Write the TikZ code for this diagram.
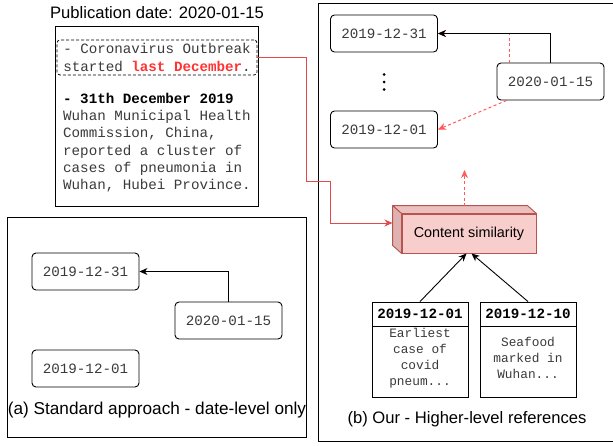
\documentclass[tikz,border=0pt]{standalone}
\usepackage{fontspec}
\setmainfont{Liberation Sans}
\setmonofont{Liberation Mono}
\usetikzlibrary{arrows.meta,calc}
\definecolor{redline}{RGB}{228,72,72}
\definecolor{reddash}{RGB}{255,90,90}
\definecolor{redtxt}{RGB}{255,51,51}
\definecolor{cubefill}{HTML}{F8CECC}
\definecolor{cubetop}{HTML}{EBC0BE}
\definecolor{cubeside}{HTML}{DEB2B0}
\definecolor{cubeedge}{HTML}{B85450}
\definecolor{txtgray}{HTML}{3A3A3A}
\begin{document}
\begin{tikzpicture}[x=1pt,y=-1pt,
  datebox/.style={draw, rounded corners=4pt, line width=0.9pt, minimum width=107pt, minimum height=37pt, inner sep=0pt, font=\ttfamily\fontsize{14.2}{17}\selectfont, text=txtgray},
  panel/.style={draw, line width=0.9pt},
  caption/.style={font=\fontsize{16.6}{20}\selectfont, inner sep=0pt},
  blackarrow/.style={draw, line width=0.9pt, -{Stealth[length=8pt,width=7pt,inset=2.5pt]}},
  redarrow/.style={draw=redline, line width=0.9pt, -{Stealth[length=8pt,width=7pt,inset=2.5pt]}},
  dasharrow/.style={draw=reddash, line width=1pt, dash pattern=on 3pt off 2.5pt, -{Stealth[length=8pt,width=7pt,inset=2.5pt]}},
  docbox/.style={draw, line width=0.9pt, inner sep=0pt},
  monotxt/.style={font=\ttfamily\fontsize{14.2}{17.2}\selectfont, text=txtgray, inner sep=0pt},
  smalltxt/.style={font=\ttfamily\fontsize{12.8}{16}\selectfont, text=txtgray, inner sep=0pt, align=center},
  headtxt/.style={draw, line width=0.9pt, minimum width=96pt, minimum height=24pt, inner sep=0pt, font=\ttfamily\bfseries\fontsize{14.2}{17}\selectfont}
]
\useasboundingbox (0,0) rectangle (613,445);

% ---------- title and source document ----------
\node[caption] (title) at (157,13) {Publication date: 2020-01-15};
\node[docbox, minimum width=203pt, minimum height=180pt] (doc) at (156.5,116) {};
\node[draw, line width=0.8pt, dash pattern=on 3pt off 2pt, rounded corners=3pt, minimum width=200pt, minimum height=35pt, inner sep=0pt, align=left, monotxt] (hl) at (157,57.5)
  {- Coronavirus Outbreak\\started \textbf{\textcolor{redtxt}{last December}}.};
\node[monotxt, anchor=north west, align=left] (body) at (63,93)
  {\textbf{\color{black}- 31th December 2019}\\Wuhan Municipal Health\\Commission, China,\\reported a cluster of\\cases of pneumonia in\\Wuhan, Hubei Province.};

% ---------- panel (a) ----------
\node[panel, minimum width=299pt, minimum height=220pt, inner sep=0pt] (pa) at (156.5,327) {};
\node[datebox] (a31) at (85.5,271.5) {2019-12-31};
\node[datebox] (a15) at (228.5,320.5) {2020-01-15};
\node[datebox] (a01) at (85.5,368.5) {2019-12-01};
\draw[blackarrow] (a15.north) |- (a31.east);
\node[caption, font=\fontsize{17.2}{20}\selectfont] (capa) at (157,410) {(a) Standard approach - date-level only};

% ---------- panel (b) ----------
\draw[panel] (318,3) rectangle (630,441);
\node[datebox] (b31) at (384,33.5) {2019-12-31};
\node[datebox] (b15) at (550.5,81.5) {2020-01-15};
\node[datebox] (b01) at (384,129.5) {2019-12-01};
\fill (384,74.5) circle (1.5pt) (384,82) circle (1.5pt) (384,89.5) circle (1.5pt);
\draw[dasharrow] ([xshift=-41.5pt]b15.north) |- (b31.east);
\draw[blackarrow] (b15.north) |- (b31.east);
\draw[dasharrow] ([xshift=10pt]b15.south west) -- (b01.east);

% cube
\node[draw=cubeedge, fill=cubefill, line width=0.9pt, minimum width=134pt, minimum height=39pt, inner sep=0pt, font=\fontsize{14.4}{17}\selectfont] (cs) at (469,233.5) {Content similarity};
\draw[draw=cubeedge, fill=cubetop, line width=0.9pt, line join=round]
  (cs.north west) -- ([shift={(-9pt,8pt)}]cs.north west) -- ([shift={(-9pt,8pt)}]cs.north east) -- (cs.north east) -- cycle;
\draw[draw=cubeedge, fill=cubeside, line width=0.9pt, line join=round]
  (cs.north west) -- ([shift={(-9pt,8pt)}]cs.north west) -- ([shift={(-9pt,8pt)}]cs.south west) -- (cs.south west) -- cycle;
\coordinate (csin) at (392.5,223);
\coordinate (cstop) at (464.5,206);
\coordinate (csup) at (464.5,170);
\draw[dasharrow] (cstop) -- (csup);

% red connector from highlighted sentence to cube
\draw[redarrow] (hl.east) -- (306,57.5) -- (306,181) -- (330,181) -- (330,223) -- (csin);

% reference documents
\node[headtxt] (d1h) at (420,314) {2019-12-01};
\node[docbox, minimum width=96pt, minimum height=71pt, anchor=north] (d1b) at (d1h.south) {};
\node[smalltxt] (d1t) at (420,358) {Earliest\\case of\\covid\\pneum...};
\node[headtxt] (d2h) at (528,314) {2019-12-10};
\node[docbox, minimum width=96pt, minimum height=71pt, anchor=north] (d2b) at (d2h.south) {};
\node[smalltxt] (d2t) at (528,358) {Seafood\\marked in\\Wuhan...};
\draw[blackarrow] (d1h.north) -- ([xshift=-2.5pt]cs.south);
\draw[blackarrow] (d2h.north) -- ([xshift=2.5pt]cs.south);
\node[caption] (capb) at (467,419) {(b) Our - Higher-level references};
\end{tikzpicture}
\end{document}
